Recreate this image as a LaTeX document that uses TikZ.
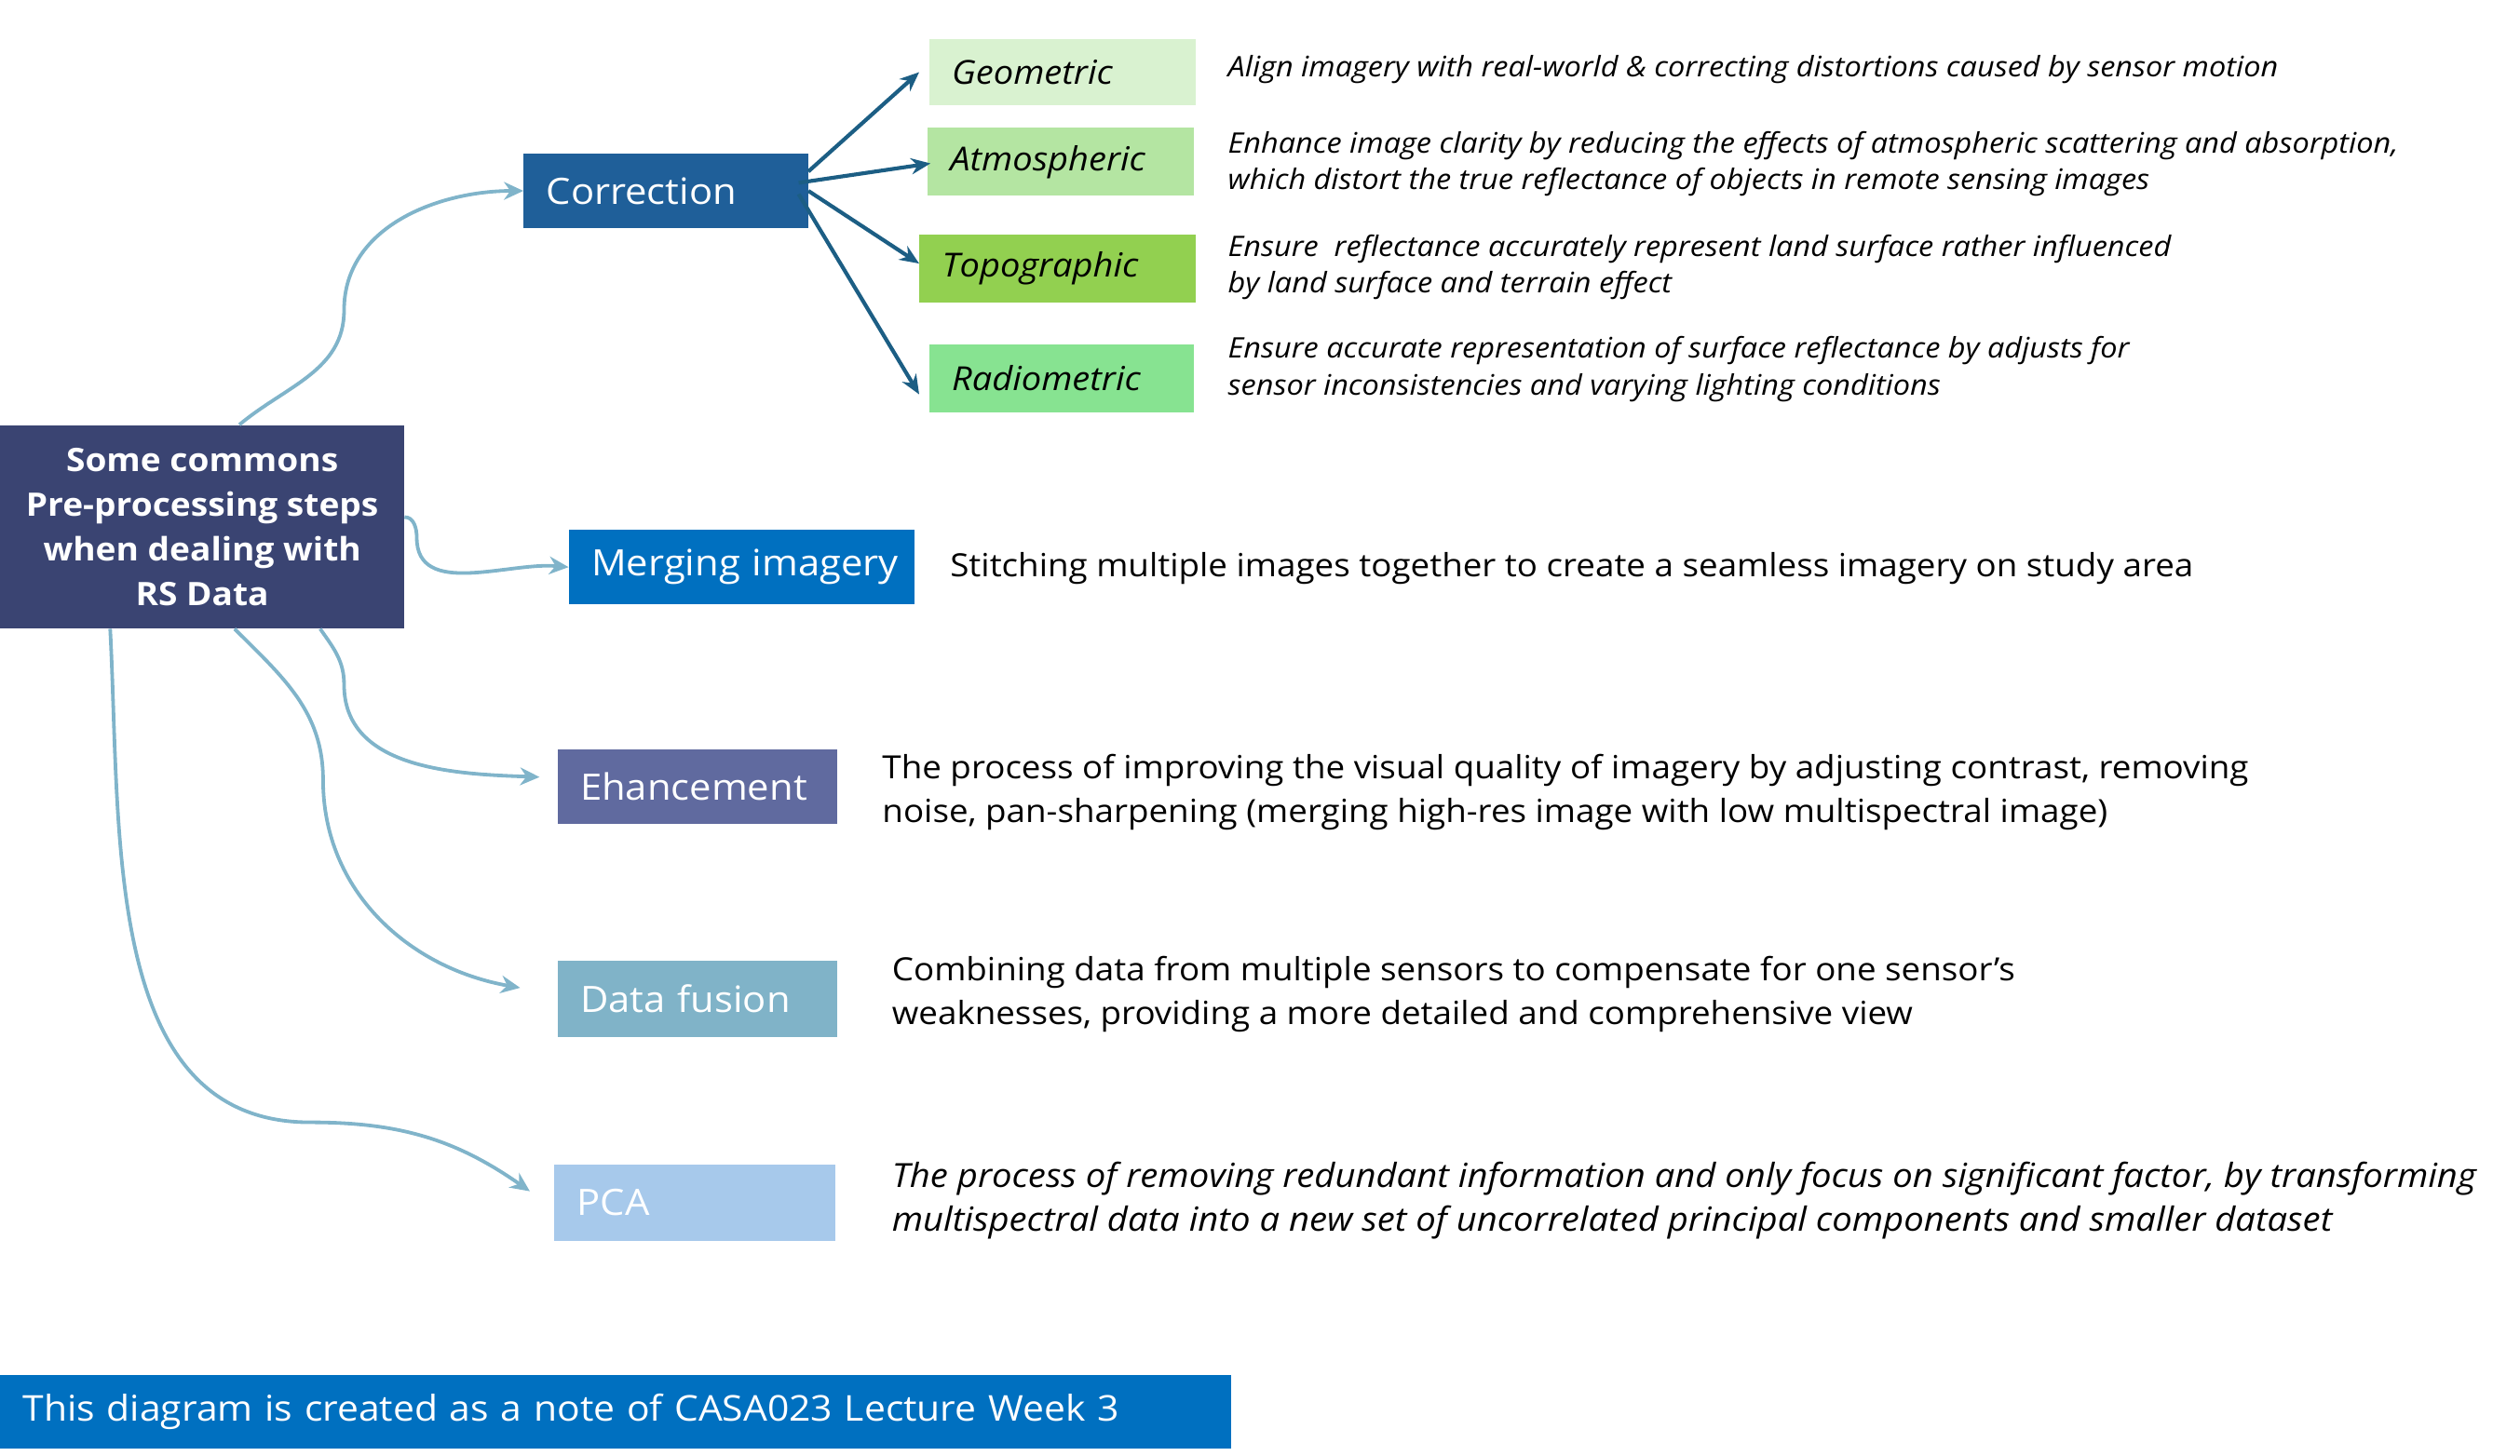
\documentclass[tikz,border=0pt]{standalone}
\usepackage{fontspec}
\setmainfont{Open Sans}[FakeStretch=1.07]
\usetikzlibrary{arrows.meta,calc}
\definecolor{cmain}{HTML}{3A4472}
\definecolor{ccorr}{HTML}{1F5F99}
\definecolor{cgeo}{HTML}{D9F2D0}
\definecolor{catm}{HTML}{B4E5A2}
\definecolor{ctopo}{HTML}{92D050}
\definecolor{crad}{HTML}{87E391}
\definecolor{cmerge}{HTML}{0070C0}
\definecolor{cenh}{HTML}{606A9F}
\definecolor{cfus}{HTML}{80B3C8}
\definecolor{cpca}{HTML}{A7C9EB}
\definecolor{cdark}{HTML}{1C5E84}
\definecolor{clight}{HTML}{80B4CA}
\tikzset{
  box/.style={rectangle, inner xsep=14pt, inner ysep=0pt, anchor=north west, align=left,
    font=\fontsize{22.5}{27}\selectfont, text=white},
  subbox/.style={rectangle, inner xsep=14pt, inner ysep=0pt, anchor=north west, align=left,
    font=\fontsize{20.5}{24}\selectfont\itshape, text=black},
  desc/.style={anchor=west, align=left, inner sep=0pt, font=\fontsize{19.8}{27}\selectfont},
  sdesc/.style={anchor=west, align=left, inner sep=0pt, font=\fontsize{17.5}{23}\selectfont\itshape},
  darrow/.style={draw=cdark, line width=2.4pt, -{Stealth[length=12pt,width=10pt]}},
  larrow/.style={draw=clight, line width=2.2pt, -{Stealth[length=12pt,width=11pt]}},
}
\begin{document}
\begin{tikzpicture}[x=1pt,y=-1pt]
\useasboundingbox (0,0) rectangle (1560,901.6);
% main node
\node[rectangle, fill=cmain, text=white, anchor=north west, align=center, inner sep=0pt,
  minimum width=250pt, minimum height=126pt, font=\fontsize{20}{27.7}\selectfont\bfseries]
  (main) at (0,263) {Some commons\\Pre-processing steps\\when dealing with\\RS Data};
% category boxes
\node[box, fill=ccorr, text width=148pt, minimum height=46pt] (corr) at (324,95) {Correction};
\node[box, fill=cmerge, text width=186pt, minimum height=46pt] (merge) at (352,328) {\mbox{Merging imagery}};
\node[box, fill=cenh, text width=145pt, minimum height=46pt] (enh) at (345,464) {Ehancement};
\node[box, fill=cfus, text width=145pt, minimum height=47pt] (fus) at (345,595) {Data fusion};
\node[box, fill=cpca, text width=146pt, minimum height=47pt] (pca) at (343,721) {PCA};
% correction sub-boxes
\node[subbox, fill=cgeo, text width=137pt, minimum height=41pt] (geo) at (575,24) {Geometric};
\node[subbox, fill=catm, text width=137pt, minimum height=42pt] (atm) at (574,79) {Atmospheric};
\node[subbox, fill=ctopo, text width=143pt, minimum height=42pt] (topo) at (569,145) {Topographic};
\node[subbox, fill=crad, text width=136pt, minimum height=42pt] (rad) at (575,213) {Radiometric};
% sub descriptions
\node[sdesc] (geod) at (760,43) {Align imagery with real-world \& correcting distortions caused by sensor motion};
\node[sdesc] (atmd) at (760,101.5) {Enhance image clarity by reducing the effects of atmospheric scattering and absorption,\\which distort the true reflectance of objects in remote sensing images};
\node[sdesc] (topod) at (760,165.5) {Ensure\ \ reflectance accurately represent land surface rather influenced\\by land surface and terrain effect};
\node[sdesc] (radd) at (760,228.5) {Ensure accurate representation of surface reflectance by adjusts for\\sensor inconsistencies and varying lighting conditions};
% descriptions
\node[desc] (merged) at (588,352) {Stitching multiple images together to create a seamless imagery on study area};
\node[desc] (enhd) at (546,490.5) {The process of improving the visual quality of imagery by adjusting contrast, removing\\noise, pan-sharpening (merging high-res image with low multispectral image)};
\node[desc] (fusd) at (552,615.5) {Combining data from multiple sensors to compensate for one sensor's\\weaknesses, providing a more detailed and comprehensive view};
\node[desc, font=\fontsize{20.6}{27}\selectfont\itshape] (pcad) at (552,743.5) {The process of removing redundant information and only focus on significant factor, by transforming\\multispectral data into a new set of uncorrelated principal components and smaller dataset};
% banner
\node[box, fill=cmerge, font=\fontsize{22}{27}\selectfont, text width=734pt, minimum height=46pt] (banner) at (0,851) {This diagram is created as a note of CASA023 Lecture Week 3};
% dark arrows
\draw[darrow] ([yshift=12pt]corr.east) -- ([xshift=-6pt]geo.west);
\draw[darrow] ([xshift=-6pt,yshift=5pt]corr.east) -- ([xshift=2pt,yshift=-1pt]atm.west);
\draw[darrow] (corr.east) -- ([yshift=3pt]topo.west);
\draw[darrow] ([xshift=-6pt,yshift=-2pt]corr.east) -- ([xshift=-6pt,yshift=-10pt]rad.west);
% light arrows
\coordinate (c1) at (213,192);
\draw[larrow] ([xshift=23pt]main.north) to[out=40,in=-90] (c1) to[out=90,in=180] (corr.west);
\coordinate (c2) at (258,333);
\draw[larrow] ([yshift=6pt]main.east) to[out=0,in=90] (c2) to[out=-90,in=175] (merge.west);
\coordinate (c3) at (213,424);
\draw[larrow] ([xshift=73pt]main.south) to[out=-55,in=90] (c3) to[out=-90,in=178] ([xshift=-11pt,yshift=6pt]enh.west);
\coordinate (c4) at (200,483);
\draw[larrow] ([xshift=20pt]main.south) to[out=-45,in=90] (c4) to[out=-90,in=170] ([xshift=-23pt,yshift=7pt]fus.west);
\coordinate (c5) at (192,695);
\draw[larrow] ([xshift=-57pt]main.south) to[out=-87,in=180] (c5) to[out=0,in=145] ([xshift=-15pt,yshift=7pt]pca.west);
\end{tikzpicture}
\end{document}
